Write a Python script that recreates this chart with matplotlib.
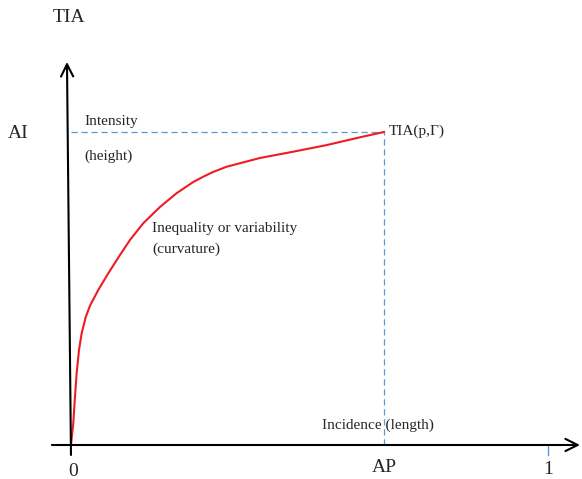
import matplotlib.pyplot as plt
import numpy as np

# concave TIA curve (x = incidence, y = intensity)
curve_x = [0.0, 0.0048, 0.0084, 0.0119, 0.0168, 0.0224, 0.0308, 0.0398, 0.0572,
           0.0782, 0.1027, 0.1237, 0.1516, 0.1866, 0.2216, 0.2558,
           0.2774, 0.2977, 0.3264, 0.3962, 0.4660, 0.5367, 0.6059, 0.6562]
curve_y = [0.0, 0.0455, 0.1013, 0.1503, 0.1992, 0.2342, 0.2678, 0.2920, 0.3249,
           0.3600, 0.3983, 0.4298, 0.465, 0.499, 0.528, 0.551,
           0.5625, 0.5723, 0.5834, 0.6017, 0.6149, 0.6289, 0.6451, 0.6562]
AP = 0.656
AI = 0.656

plt.rcParams['font.family'] = ['Liberation Serif', 'DejaVu Serif']
TXT = '#262626'
BLUE = '#5b9bd5'

fig = plt.figure(figsize=(5.82, 4.79), dpi=100)
ax = fig.add_axes([0, 0, 1, 1])
ax.set_xlim(-0.1488, 1.0713)
ax.set_ylim(-0.0713, 0.9329)
ax.axis('off')

# axes with open arrow heads
ax.annotate('', xy=(1.067, 0), xytext=(-0.040, 0),
            arrowprops=dict(arrowstyle='->', lw=1.5, color='black',
                            mutation_scale=22, shrinkA=0, shrinkB=0))
ax.annotate('', xy=(-0.0084, 0.803), xytext=(0.0, -0.021),
            arrowprops=dict(arrowstyle='->', lw=1.5, color='black',
                            mutation_scale=22, shrinkA=0, shrinkB=0))

# dashed guides to TIA(p, Gamma)
ax.plot([0, AP], [AI, AI], color=BLUE, lw=0.9, dashes=(5, 3))
ax.plot([AP, AP], [0, AI], color=BLUE, lw=0.9, dashes=(5, 3))
ax.plot([1, 1], [0, -0.021], color=BLUE, lw=1.0)

ax.plot(curve_x, curve_y, color='#ee1c24', lw=1.5, solid_joinstyle='round')

ax.text(-0.005, 0.897, 'TIA', fontsize=14, color=TXT, ha='center', va='center')
ax.text(-0.111, 0.654, 'AI', fontsize=14, color=TXT, ha='center', va='center')
ax.text(0.029, 0.679, 'Intensity', fontsize=11, color=TXT, ha='left', va='center')
ax.text(0.029, 0.606, '(height)', fontsize=11, color=TXT, ha='left', va='center')
ax.text(0.170, 0.453, 'Inequality or variability', fontsize=11, color=TXT, ha='left', va='center')
ax.text(0.170, 0.411, '(curvature)', fontsize=11, color=TXT, ha='left', va='center')
ax.text(0.667, 0.658, 'TIA(p,Γ)', fontsize=11, color=TXT, ha='left', va='center')
ax.text(0.526, 0.042, 'Incidence (length)', fontsize=11, color=TXT, ha='left', va='center')
ax.text(AP, -0.048, 'AP', fontsize=14, color=TXT, ha='center', va='center')
ax.text(1.0, -0.052, '1', fontsize=14, color=TXT, ha='center', va='center')
ax.text(0.004, -0.055, '0', fontsize=14, color=TXT, ha='center', va='center')

fig.savefig('out.png', dpi=100)
